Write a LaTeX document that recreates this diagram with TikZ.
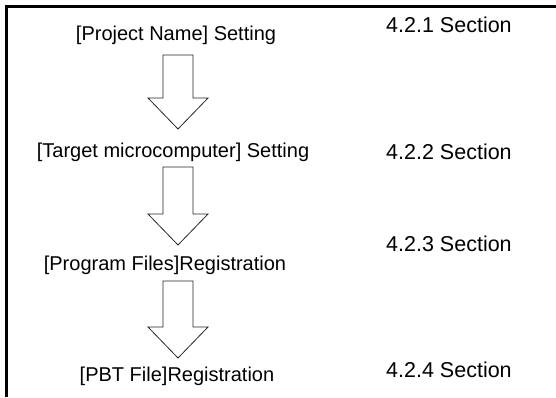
\documentclass[tikz,border=0pt]{standalone}
\usepackage{fontspec}
\setmainfont{Liberation Sans}
\usetikzlibrary{calc}

% hollow block arrow from shaft top #1 down to tip #2
\newcommand{\bigarrow}[2]{%
\draw[blockarrow] let \p1=(#1), \p2=(#2) in
  (\x1-15pt,\y1) -- (\x1+15pt,\y1) -- (\x1+15pt,\y2+31pt) -- (\x1+30pt,\y2+31pt)
  -- (\x2,\y2) -- (\x1-30pt,\y2+31pt) -- (\x1-15pt,\y2+31pt) -- cycle;}

\begin{document}
\begin{tikzpicture}[x=1pt,y=-1pt,
  every node/.style={inner sep=0pt,font=\fontsize{20}{24}\selectfont},
  section/.style={anchor=base west,font=\fontsize{21.5}{25}\selectfont},
  blockarrow/.style={draw=black!85,line width=0.8pt,line join=miter}]
\useasboundingbox (0,0) rectangle (556,397);
\draw[line width=2.5pt] (6.5,397) -- (6.5,6.5) -- (556,6.5);

\node[anchor=base] (proj) at (176,40) {[Project Name] Setting};
\node[anchor=base] (target) at (173,157) {[Target microcomputer] Setting};
\node[anchor=base] (prog) at (165,270) {[Program Files]Registration};
\node[anchor=base] (pbt) at (177,381) {[PBT File]Registration};

\node[section] (sec1) at (386,32) {4.2.1 Section};
\node[section] (sec2) at (386,159) {4.2.2 Section};
\node[section] (sec3) at (386,251) {4.2.3 Section};
\node[section] (sec4) at (386,377) {4.2.4 Section};

\coordinate (top1) at (178,55);
\coordinate (tip1) at (178,129);
\coordinate (top2) at (178,167);
\coordinate (tip2) at (178,245);
\coordinate (top3) at (178,281);
\coordinate (tip3) at (178,358);
\bigarrow{top1}{tip1}
\bigarrow{top2}{tip2}
\bigarrow{top3}{tip3}
\end{tikzpicture}
\end{document}
